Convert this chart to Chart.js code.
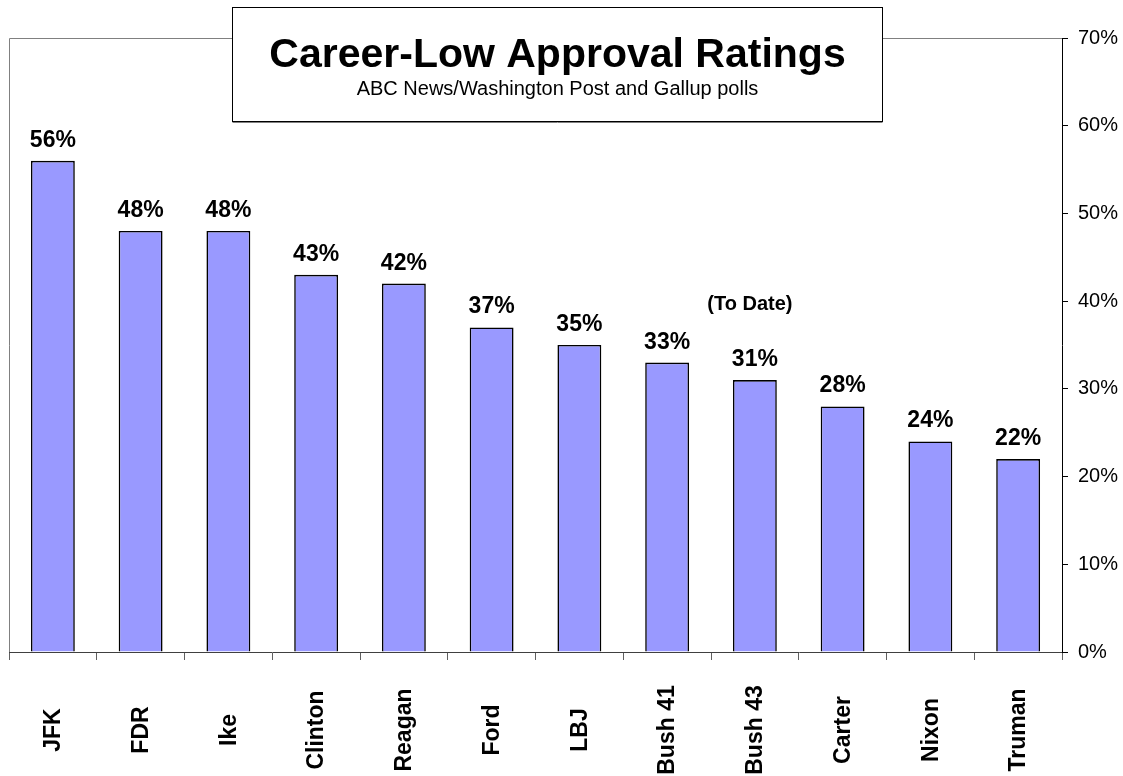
<!DOCTYPE html>
<html>
<head>
<meta charset="utf-8">
<script src="https://cdn.jsdelivr.net/npm/chart.js@4"></script>
<style>
  html, body { margin: 0; padding: 0; background: #fff; }
  canvas { display: block; }
</style>
</head>
<body>
<canvas id="c" width="1123" height="776"></canvas>
<script>
const categories = ["JFK", "FDR", "Ike", "Clinton", "Reagan", "Ford", "LBJ", "Bush 41", "Bush 43", "Carter", "Nixon", "Truman"];
const approvalLow = [56, 48, 48, 43, 42, 37, 35, 33, 31, 28, 24, 22];
const yTicks = [0, 10, 20, 30, 40, 50, 60, 70];
const titleText = "Career-Low Approval Ratings";
const subtitleText = "ABC News/Washington Post and Gallup polls";
const noteText = "(To Date)";
const noteIndex = 8;
const noteValue = 40;

const FONT = '"Liberation Sans", Arial, Helvetica, sans-serif';

const decor = {
  id: 'decor',
  beforeDatasetsDraw(chart) {
    const { ctx, chartArea: a } = chart;
    ctx.save();
    ctx.strokeStyle = '#808080';
    ctx.lineWidth = 1;
    ctx.beginPath();
    ctx.moveTo(a.left + 0.5, a.bottom);
    ctx.lineTo(a.left + 0.5, a.top + 0.5);
    ctx.lineTo(a.right, a.top + 0.5);
    ctx.stroke();
    ctx.restore();
  },
  afterDraw(chart) {
    const { ctx } = chart;
    const xs = chart.scales.x, ys = chart.scales.y;
    const meta = chart.getDatasetMeta(0);
    ctx.save();
    // value labels
    ctx.fillStyle = '#000';
    ctx.font = 'bold 23px ' + FONT;
    ctx.textAlign = 'center';
    ctx.textBaseline = 'alphabetic';
    meta.data.forEach((bar, i) => {
      ctx.fillText(approvalLow[i] + '%', bar.x, bar.y - 14);
    });
    // note
    ctx.font = 'bold 20px ' + FONT;
    ctx.textBaseline = 'middle';
    ctx.fillText(noteText, xs.getPixelForValue(noteIndex) - 5, ys.getPixelForValue(noteValue) + 3);
    // category labels rotated
    ctx.font = 'bold 23px ' + FONT;
    categories.forEach((c, i) => {
      ctx.save();
      ctx.translate(xs.getPixelForValue(i) + 1, 730);
      ctx.rotate(-Math.PI / 2);
      ctx.textAlign = 'center';
      ctx.textBaseline = 'middle';
      ctx.fillText(c, 0, 0);
      ctx.restore();
    });
    // title box
    const bx = 232.5, by = 7.5, bw = 650, bh = 114;
    ctx.fillStyle = '#fff';
    ctx.fillRect(bx, by, bw, bh);
    ctx.strokeStyle = '#000';
    ctx.lineWidth = 1;
    ctx.strokeRect(bx, by, bw, bh);
    ctx.strokeStyle = '#808080';
    ctx.beginPath();
    ctx.moveTo(bx, by + bh + 1);
    ctx.lineTo(bx + bw, by + bh + 1);
    ctx.stroke();
    ctx.fillStyle = '#000';
    ctx.textAlign = 'center';
    ctx.textBaseline = 'alphabetic';
    ctx.font = 'bold 41px ' + FONT;
    ctx.fillText(titleText, bx + bw / 2, 67);
    ctx.font = '20px ' + FONT;
    ctx.fillText(subtitleText, bx + bw / 2, 95);
    ctx.restore();
  }
};

new Chart(document.getElementById('c'), {
  type: 'bar',
  data: {
    labels: categories,
    datasets: [{
      data: approvalLow,
      backgroundColor: '#9999FF',
      borderColor: '#000',
      borderWidth: 1.6,
      barPercentage: 0.5,
      categoryPercentage: 1.0
    }]
  },
  options: {
    responsive: false,
    animation: false,
    devicePixelRatio: 1,
    layout: { padding: { left: 9, top: 38, right: 0, bottom: 0 } },
    plugins: { legend: { display: false }, tooltip: { enabled: false }, title: { display: false } },
    scales: {
      x: {
        grid: { offset: true, drawOnChartArea: false, drawTicks: true, tickLength: 8, color: '#606060' },
        border: { display: true, color: '#404040' },
        ticks: { display: false },
        afterFit(s) { s.height = 124; }
      },
      y: {
        position: 'right',
        min: 0,
        max: 70,
        afterBuildTicks(s) { s.ticks = yTicks.map(v => ({ value: v })); },
        ticks: {
          callback: v => v + '%',
          font: { family: FONT, size: 20 },
          color: '#000',
          padding: 10
        },
        grid: { drawOnChartArea: false, drawTicks: true, tickLength: 6, color: '#000' },
        border: { display: true, color: '#000' },
        afterFit(s) { s.width = 61; }
      }
    }
  },
  plugins: [decor]
});
</script>
</body>
</html>
